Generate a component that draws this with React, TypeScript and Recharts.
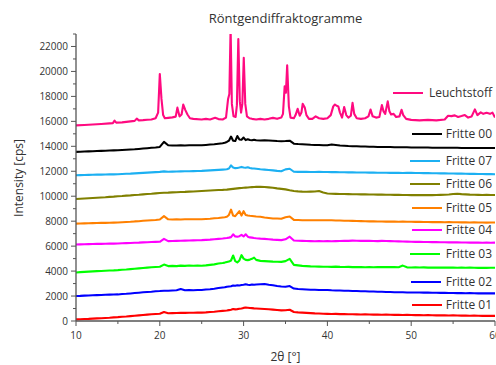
import React from 'react';
import { LineChart, Line, XAxis, YAxis } from 'recharts';

// 2theta grid shared by the Fritte scans (finer around the 28-31 deg peak group)
const fritteTheta = [
  10, 10.5, 11, 11.5, 12, 12.5, 13, 13.5, 14, 14.5,
  15, 15.5, 16, 16.5, 17, 17.5, 18, 18.5, 19, 19.5,
  20, 20.5, 21, 21.5, 22, 22.5, 23, 23.5, 24, 24.5,
  25, 25.5, 26, 26.5, 27, 27.5,
  27.75, 28, 28.25, 28.5, 28.75, 29, 29.25, 29.5, 29.75, 30, 30.25, 30.5, 30.75, 31, 31.25, 31.5,
  32, 32.5, 33, 33.5, 34, 34.5,
  35, 35.5, 36, 36.5, 37, 37.5, 38, 38.5, 39, 39.5,
  40, 40.5, 41, 41.5, 42, 42.5, 43, 43.5, 44, 44.5,
  45, 45.5, 46, 46.5, 47, 47.5, 48, 48.5, 49, 49.5,
  50, 50.5, 51, 51.5, 52, 52.5, 53, 53.5, 54, 54.5,
  55, 55.5, 56, 56.5, 57, 57.5, 58, 58.5, 59, 59.5,
  60,
];

const fritte01 = [
  130, 140, 160, 170, 190, 210, 220, 240, 260, 290,
  310, 340, 360, 390, 420, 450, 480, 510, 540, 560,
  580, 720, 620, 630, 640, 650, 650, 660, 660, 670,
  670, 690, 720, 740, 780, 810,
  820, 840, 870, 900, 960, 930, 950, 980, 1000, 1050, 1080, 1060, 1040, 1030, 1010, 1000,
  980, 960, 940, 910, 880, 850,
  860, 900, 720, 690, 670, 650, 630, 610, 600, 580,
  570, 560, 570, 550, 550, 540, 540, 530, 520, 530,
  520, 510, 510, 500, 510, 500, 490, 500, 480, 490,
  480, 470, 480, 460, 470, 460, 450, 460, 450, 440,
  450, 440, 430, 440, 420, 430, 420, 410, 420, 410,
  410,
];

const fritte02 = [
  2000, 2010, 2030, 2040, 2060, 2070, 2080, 2100, 2110, 2120,
  2130, 2160, 2180, 2210, 2240, 2270, 2300, 2330, 2350, 2380,
  2400, 2430, 2420, 2450, 2470, 2560, 2460, 2480, 2470, 2490,
  2480, 2520, 2550, 2590, 2640, 2680,
  2700, 2750, 2770, 2790, 2850, 2820, 2860, 2850, 2880, 2900, 2950, 2910, 2890, 2920, 2900, 2920,
  2940, 2960, 2900, 2860, 2800, 2760,
  2740, 2800, 2600, 2560, 2540, 2520, 2500, 2500, 2490, 2480,
  2480, 2460, 2450, 2440, 2430, 2420, 2410, 2400, 2390, 2380,
  2370, 2360, 2350, 2340, 2330, 2320, 2310, 2300, 2300, 2290,
  2290, 2280, 2280, 2270, 2270, 2260, 2260, 2250, 2250, 2240,
  2240, 2230, 2230, 2220, 2230, 2220, 2210, 2220, 2210, 2210,
  2210,
];

const fritte03 = [
  3890, 3920, 3940, 3960, 3980, 4000, 4010, 4030, 4050, 4060,
  4080, 4110, 4130, 4160, 4190, 4220, 4250, 4280, 4310, 4330,
  4350, 4520, 4400, 4420, 4400, 4440, 4420, 4450, 4430, 4440,
  4430, 4460, 4500, 4540, 4610, 4650,
  4680, 4720, 4760, 4850, 5250, 4800, 4700, 4850, 5280, 5000, 4900, 4880, 4920, 4980, 5080, 4900,
  4820, 4800, 4780, 4760, 4750, 4740,
  4800, 4980, 4500, 4460, 4420, 4400, 4380, 4370, 4360, 4350,
  4350, 4340, 4360, 4340, 4330, 4340, 4320, 4330, 4320, 4310,
  4320, 4310, 4320, 4330, 4320, 4330, 4320, 4310, 4440, 4300,
  4290, 4300, 4290, 4300, 4280, 4290, 4280, 4290, 4280, 4290,
  4280, 4270, 4280, 4270, 4280, 4270, 4260, 4270, 4260, 4270,
  4270,
];

const fritte04 = [
  6130, 6140, 6150, 6160, 6170, 6180, 6180, 6190, 6200, 6200,
  6210, 6230, 6240, 6250, 6270, 6280, 6300, 6310, 6330, 6340,
  6350, 6580, 6400, 6410, 6420, 6430, 6440, 6450, 6460, 6470,
  6480, 6500, 6520, 6550, 6580, 6610,
  6630, 6650, 6680, 6720, 6950, 6780, 6750, 6800, 6900, 6780, 6950, 6760, 6700, 6680, 6650, 6630,
  6600, 6580, 6550, 6520, 6500, 6480,
  6550, 6760, 6450, 6430, 6420, 6410, 6400, 6390, 6400, 6390,
  6400, 6390, 6400, 6410, 6430, 6420, 6440, 6430, 6420, 6430,
  6420, 6410, 6400, 6420, 6410, 6400, 6390, 6380, 6370, 6360,
  6350, 6340, 6340, 6330, 6330, 6320, 6320, 6310, 6310, 6300,
  6300, 6300, 6290, 6290, 6280, 6290, 6280, 6270, 6280, 6270,
  6280,
];

const fritte05 = [
  7800, 7810, 7820, 7830, 7840, 7850, 7860, 7860, 7870, 7880,
  7890, 7910, 7930, 7950, 7980, 8000, 8030, 8060, 8080, 8100,
  8130, 8400, 8150, 8140, 8150, 8140, 8150, 8160, 8150, 8160,
  8160, 8180, 8200, 8230, 8250, 8300,
  8320, 8350, 8500, 8920, 8450, 8400, 8600, 8800, 8450, 8800, 8500, 8450, 8430, 8420, 8400, 8380,
  8350, 8300, 8260, 8220, 8210, 8200,
  8320, 8380, 8100, 8090, 8080, 8080, 8080, 8070, 8080, 8070,
  8080, 8070, 8060, 8050, 8040, 8030, 8020, 8010, 8000, 7990,
  7980, 7980, 7970, 7970, 7960, 7960, 7960, 7950, 7960, 7950,
  7950, 7940, 7940, 7930, 7930, 7920, 7930, 7920, 7910, 7920,
  7910, 7910, 7900, 7900, 7890, 7900, 7890, 7890, 7880, 7890,
  7890,
];

const fritte06 = [
  9780, 9800, 9820, 9840, 9860, 9880, 9900, 9920, 9950, 9970,
  10000, 10020, 10050, 10070, 10100, 10120, 10150, 10180, 10200, 10230,
  10260, 10280, 10290, 10310, 10320, 10340, 10350, 10370, 10380, 10400,
  10420, 10440, 10460, 10480, 10500, 10510,
  10520, 10530, 10550, 10570, 10590, 10610, 10630, 10650, 10660, 10680, 10690, 10700, 10720, 10730, 10740, 10750,
  10760, 10740, 10710, 10680, 10630, 10590,
  10550, 10480, 10420, 10390, 10370, 10360, 10370, 10380, 10420, 10300,
  10220, 10200, 10190, 10180, 10180, 10170, 10160, 10160, 10150, 10150,
  10140, 10140, 10130, 10130, 10120, 10120, 10110, 10110, 10100, 10100,
  10090, 10090, 10100, 10090, 10100, 10090, 10100, 10110, 10120, 10140,
  10180, 10200, 10170, 10150, 10130, 10120, 10110, 10100, 10110, 10100,
  10100,
];

const fritte07 = [
  11680, 11690, 11700, 11710, 11720, 11730, 11730, 11740, 11750, 11750,
  11760, 11780, 11800, 11810, 11830, 11850, 11870, 11890, 11910, 11930,
  11950, 11990, 11960, 11970, 11980, 11990, 12000, 12000, 12010, 12020,
  12030, 12050, 12070, 12090, 12110, 12130,
  12140, 12160, 12220, 12470, 12300, 12250, 12260, 12300, 12350, 12300, 12280, 12320, 12260, 12230, 12220, 12200,
  12160, 12130, 12100, 12070, 12030, 12000,
  12150, 12200, 11960, 11950, 11950, 11950, 11940, 11940, 11950, 11940,
  11940, 11930, 11930, 11920, 11920, 11910, 11910, 11900, 11900, 11900,
  11890, 11890, 11880, 11880, 11880, 11870, 11870, 11870, 11860, 11870,
  11870, 11860, 11860, 11850, 11850, 11840, 11840, 11830, 11830, 11820,
  11820, 11810, 11810, 11800, 11790, 11790, 11780, 11780, 11770, 11770,
  11760,
];

const fritte00 = [
  13550, 13560, 13580, 13590, 13600, 13620, 13630, 13640, 13660, 13670,
  13680, 13700, 13720, 13740, 13760, 13790, 13820, 13850, 13880, 13910,
  13950, 14350, 14080, 14060, 14070, 14080, 14070, 14080, 14090, 14080,
  14080, 14110, 14140, 14170, 14210, 14250,
  14290, 14350, 14450, 14780, 14450, 14420, 14820, 14550, 14520, 14700, 14500, 14560, 14500, 14480, 14520, 14480,
  14470, 14480, 14470, 14450, 14420, 14400,
  14420, 14450, 14210, 14180, 14160, 14140, 14120, 14110, 14100, 14090,
  14080, 14140, 14100, 14060, 14040, 14020, 14010, 14000, 13990, 13980,
  13970, 13960, 13950, 13950, 13940, 13940, 13930, 13930, 13920, 13920,
  13910, 13910, 13900, 13900, 13900, 13890, 13890, 13890, 13880, 13880,
  13880, 13880, 13870, 13870, 13870, 13870, 13860, 13870, 13870, 13870,
  13870,
];

// Leuchtstoff has its own, finer grid because of the sharp reflections
const leuchtTheta = [
  10, 11, 12, 13, 14, 14.4, 14.6, 14.8, 15.5, 16,
  16.5, 17, 17.25, 17.5, 18, 18.5, 19, 19.5, 19.8, 20,
  20.2, 20.4, 20.6, 21, 21.5, 21.9, 22.1, 22.35, 22.6, 22.8,
  23.05, 23.3, 23.6, 24, 25, 25.5, 26, 26.6, 27, 27.5,
  27.9, 28.15, 28.3, 28.45, 28.6, 28.8, 29.05, 29.2, 29.37, 29.55,
  29.7, 29.85, 30.02, 30.2, 30.4, 30.7, 31, 31.5, 32, 32.5,
  33, 33.5, 34, 34.5, 34.7, 34.9, 35.05, 35.2, 35.4, 35.6,
  36, 36.2, 36.45, 36.7, 36.9, 37.05, 37.3, 37.5, 37.8, 38.2,
  38.6, 39, 39.5, 40, 40.4, 40.7, 40.9, 41.1, 41.3, 41.5,
  41.75, 42, 42.25, 42.5, 42.8, 43, 43.2, 43.5, 44, 44.5,
  44.9, 45.15, 45.4, 45.8, 46.2, 46.5, 46.7, 46.9, 47.2, 47.4,
  47.6, 47.9, 48.2, 48.6, 48.85, 49.05, 49.4, 50, 51, 52,
  53, 54, 54.4, 54.8, 55.2, 55.6, 56, 56.4, 56.8, 57.2,
  57.6, 57.9, 58.3, 58.6, 59, 59.4, 59.7, 60,
];

const leuchtCps = [
  15680, 15710, 15750, 15790, 15840, 15860, 16050, 15900, 15920, 15960,
  16000, 16040, 16220, 16080, 16100, 16130, 16150, 16250, 16700, 19800,
  17800, 16500, 16250, 16280, 16320, 16380, 17100, 16400, 16550, 17350,
  16900, 16550, 16250, 16200, 16150, 16200, 16150, 16280, 16180, 16150,
  16300, 17800, 18200, 23500, 17400, 16400, 16350, 17300, 22600, 17600,
  16700, 17400, 21100, 17400, 16400, 16250, 16200, 16150, 16200, 16150,
  16200, 16280, 16200, 16300, 16600, 18800, 18300, 20500, 17200, 16300,
  16250, 16500, 17000, 16450, 16700, 17400, 17100, 16500, 16200, 16200,
  16400, 16250, 16200, 16250, 16500, 17200, 17350, 17250, 17200, 16700,
  16300, 17150, 16500, 16300, 16450, 17480, 16600, 16250, 16200, 16250,
  16400, 16950, 16400, 16300, 16350, 17300, 16800, 16600, 17600, 16800,
  16550, 16600, 16350, 16400, 16930, 16500, 16200, 16120, 16080, 16120,
  16080, 16150, 16450, 16420, 16480, 16350, 16420, 16500, 16300, 16380,
  16960, 16500, 16720, 16600, 16680, 16600, 16700, 16300,
];

const seriesNames = ['Leuchtstoff', 'Fritte 00', 'Fritte 07', 'Fritte 06', 'Fritte 05', 'Fritte 04', 'Fritte 03', 'Fritte 02', 'Fritte 01'];
const seriesColors = ['#ff0a80', '#000000', '#1cb0f2', '#808000', '#ff8000', '#ff00ff', '#00ff00', '#0000ff', '#ff0000'];
const seriesTheta = [leuchtTheta, fritteTheta, fritteTheta, fritteTheta, fritteTheta, fritteTheta, fritteTheta, fritteTheta, fritteTheta];
const seriesCps = [leuchtCps, fritte00, fritte07, fritte06, fritte05, fritte04, fritte03, fritte02, fritte01];

const xTicks = [10, 15, 20, 25, 30, 35, 40, 45, 50, 55, 60];
const yTicks = [0, 1000, 2000, 3000, 4000, 5000, 6000, 7000, 8000, 9000, 10000, 11000, 12000,
  13000, 14000, 15000, 16000, 17000, 18000, 19000, 20000, 21000, 22000, 23000];

const FONT = '"Open Sans", "DejaVu Sans", sans-serif';
const AXIS = '#555555';
const TEXT = '#333333';

// legend sits inside the plot, one entry next to each trace
const legendLayout = [
  { y: 93, lineLeft: 393, lineWidth: 30 },
  { y: 134, lineLeft: 412, lineWidth: 30 },
  { y: 161, lineLeft: 410, lineWidth: 30 },
  { y: 184, lineLeft: 410, lineWidth: 30 },
  { y: 208, lineLeft: 412, lineWidth: 30 },
  { y: 230, lineLeft: 412, lineWidth: 30 },
  { y: 254, lineLeft: 410, lineWidth: 30 },
  { y: 282, lineLeft: 411, lineWidth: 30 },
  { y: 305, lineLeft: 412, lineWidth: 30 },
];

const BottomTick = (props: any) => {
  const { x, y, payload } = props;
  const major = payload.value % 10 === 0;
  return (
    <g>
      <line x1={x} x2={x} y1={y} y2={y + (major ? 5 : 3)} stroke={AXIS} strokeWidth={1} />
      {major && (
        <text x={x} y={y + 18} textAnchor="middle" fontSize={10} fill={TEXT} fontFamily={FONT}>
          {payload.value}
        </text>
      )}
    </g>
  );
};

const TopTick = (props: any) => {
  const { x, y, payload } = props;
  const major = payload.value % 10 === 0;
  return <line x1={x} x2={x} y1={y} y2={y + (major ? 4 : 2)} stroke={AXIS} strokeWidth={1} />;
};

const LeftTick = (props: any) => {
  const { x, y, payload } = props;
  const major = payload.value % 2000 === 0;
  return (
    <g>
      <line x1={x - (major ? 5 : 3)} x2={x} y1={y} y2={y} stroke={AXIS} strokeWidth={1} />
      {major && (
        <text x={x - 8} y={y + 3.6} textAnchor="end" fontSize={10} fill={TEXT} fontFamily={FONT}>
          {payload.value}
        </text>
      )}
    </g>
  );
};

const RightTick = (props: any) => {
  const { x, y, payload } = props;
  const major = payload.value % 2000 === 0;
  return <line x1={x - (major ? 4 : 2)} x2={x} y1={y} y2={y} stroke={AXIS} strokeWidth={1} />;
};

export default function App() {
  const lines = seriesNames.map((name, i) => ({
    name,
    color: seriesColors[i],
    data: seriesTheta[i].map((t, j) => ({ theta: t, cps: seriesCps[i][j] })),
  }));

  return (
    <div style={{ position: 'absolute', left: 0, top: 0, width: 496, height: 365, background: '#fff', fontFamily: FONT }}>
      <LineChart width={496} height={365} margin={{ top: 34, right: 1, bottom: 0, left: 0 }}>
        <XAxis
          xAxisId="b"
          dataKey="theta"
          type="number"
          domain={[10, 60]}
          ticks={xTicks}
          allowDataOverflow
          height={44}
          tickSize={0}
          tickMargin={0}
          tickLine={false}
          axisLine={{ stroke: AXIS, strokeWidth: 1.3 }}
          tick={<BottomTick />}
          interval={0}
        />
        <XAxis
          xAxisId="t"
          orientation="top"
          dataKey="theta"
          type="number"
          domain={[10, 60]}
          ticks={xTicks}
          allowDataOverflow
          height={0}
          tickSize={0}
          tickMargin={0}
          tickLine={false}
          axisLine={{ stroke: AXIS, strokeWidth: 1.3 }}
          tick={<TopTick />}
          interval={0}
        />
        <YAxis
          yAxisId="l"
          type="number"
          domain={[0, 23000]}
          ticks={yTicks}
          allowDataOverflow
          width={76}
          tickSize={0}
          tickMargin={0}
          tickLine={false}
          axisLine={{ stroke: AXIS, strokeWidth: 1.3 }}
          tick={<LeftTick />}
          interval={0}
        />
        <YAxis
          yAxisId="r"
          orientation="right"
          type="number"
          domain={[0, 23000]}
          ticks={yTicks}
          allowDataOverflow
          width={0}
          tickSize={0}
          tickMargin={0}
          tickLine={false}
          axisLine={{ stroke: AXIS, strokeWidth: 1.3 }}
          tick={<RightTick />}
          interval={0}
        />
        {lines.map((s) => (
          <Line
            key={s.name}
            xAxisId="b"
            yAxisId="l"
            data={s.data}
            dataKey="cps"
            name={s.name}
            type="linear"
            stroke={s.color}
            strokeWidth={2.1}
            strokeLinejoin="round"
            dot={false}
            activeDot={false}
            isAnimationActive={false}
          />
        ))}
      </LineChart>

      <div style={{ position: 'absolute', left: 76, width: 419, top: 10, textAlign: 'center', fontSize: 13, color: TEXT, lineHeight: '16px' }}>
        Röntgendiffraktogramme
      </div>
      <div style={{ position: 'absolute', left: 76, width: 419, top: 349, textAlign: 'center', fontSize: 12, color: TEXT, lineHeight: '16px' }}>
        2θ [°]
      </div>
      <div
        style={{
          position: 'absolute', left: 19 - 60, top: 178 - 8, width: 120, height: 16, lineHeight: '16px',
          textAlign: 'center', fontSize: 12, color: TEXT, transform: 'rotate(-90deg)',
        }}
      >
        Intensity [cps]
      </div>

      {lines.map((s, i) => (
        <React.Fragment key={s.name}>
          <div
            style={{
              position: 'absolute', left: legendLayout[i].lineLeft, width: legendLayout[i].lineWidth,
              top: legendLayout[i].y - 1, height: 2, background: s.color,
            }}
          />
          <div
            style={{
              position: 'absolute', right: 4, top: legendLayout[i].y - 9, height: 18, lineHeight: '18px',
              fontSize: 12, color: TEXT, whiteSpace: 'nowrap',
            }}
          >
            {s.name}
          </div>
        </React.Fragment>
      ))}
    </div>
  );
}
